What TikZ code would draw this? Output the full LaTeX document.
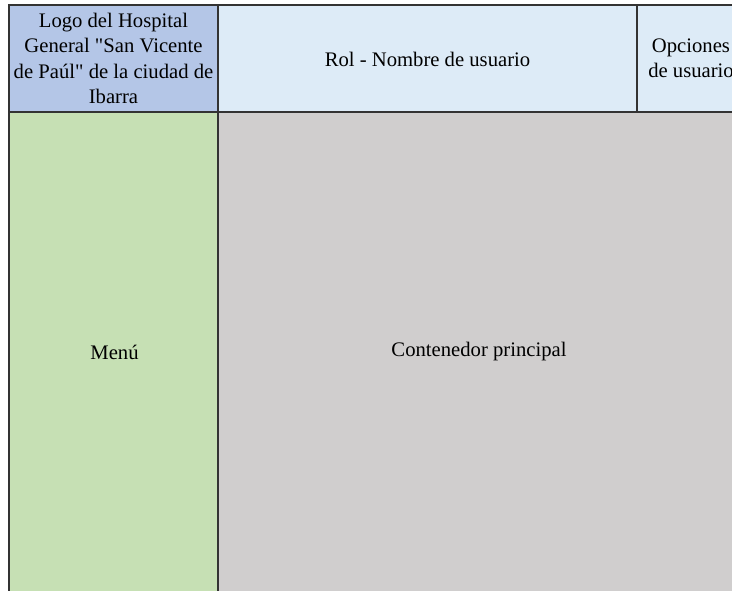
\documentclass[tikz,border=0pt]{standalone}
\usepackage{fontspec}
\setmainfont{Liberation Serif}
\usetikzlibrary{positioning}
\definecolor{logoblue}{HTML}{B4C6E7}
\definecolor{barblue}{HTML}{DDEBF7}
\definecolor{menugreen}{HTML}{C6E0B4}
\definecolor{maingray}{HTML}{D0CECE}

\begin{document}
\begin{tikzpicture}[x=0.75pt,y=-0.75pt,font=\fontsize{15.5}{19.1}\selectfont,
  cell/.style={draw=black!80, line width=0.8pt},
  celltext/.style={align=center, inner sep=0pt}]

\useasboundingbox (0,0) rectangle (732,591);
\clip (0,0) rectangle (732,591);

% cabecera
\filldraw [cell, fill=logoblue] (9,5) rectangle (218,112);
\filldraw [cell, fill=barblue] (218,5) rectangle (637,112);
\filldraw [cell, fill=barblue] (637,5) rectangle (745,112);
% cuerpo
\filldraw [cell, fill=menugreen] (9,112) rectangle (218,620);
\filldraw [cell, fill=maingray] (218,112) rectangle (760,620);

\node [celltext] (logo) at (113.5,58.5) {Logo del Hospital\\General \textquotedbl San Vicente\\de Paúl\textquotedbl{} de la ciudad de\\Ibarra};
\node [celltext] (rol) at (427.5,59) {Rol - Nombre de usuario};
\node [celltext] (opciones) at (691,58.5) {Opciones\\de usuario};
\node [celltext] (menu) at (114.5,352) {Menú};
\node [celltext] (contenedor) at (479,352) {Contenedor principal};
\end{tikzpicture}
\end{document}
